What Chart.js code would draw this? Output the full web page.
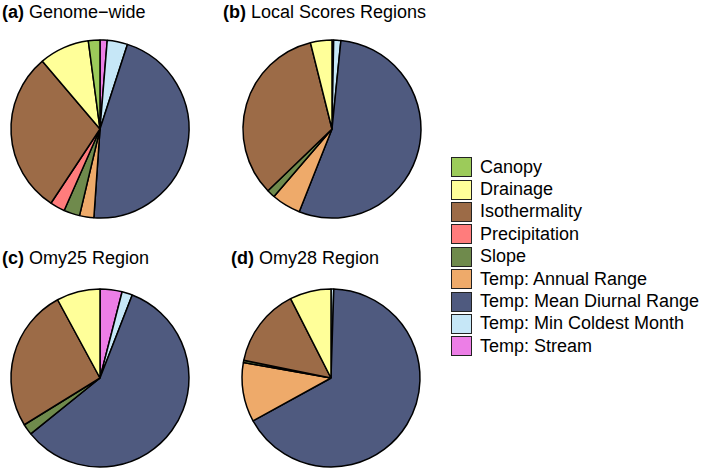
<!DOCTYPE html>
<html>
<head>
<meta charset="utf-8">
<script src="https://cdn.jsdelivr.net/npm/chart.js@4/dist/chart.umd.min.js"></script>
<style>
    body { margin: 0; background: #fff; width: 709px; height: 468px; overflow: hidden; position: relative; font-family: "Liberation Sans", Arial, sans-serif; }
    canvas { position: absolute; }
    .title { position: absolute; font-size: 18px; color: #000; white-space: nowrap; line-height: 18px; }
    .legend { position: absolute; left: 451px; top: 156px; }
    .legend .row { height: 22.4px; display: flex; align-items: center; font-size: 18px; white-space: nowrap; }
    .legend .box { width: 19px; height: 18px; border: 1.5px solid #222; margin-right: 8px; box-sizing: content-box; }
</style>
</head>
<body>
<div class="title" style="left:2px;top:3px"><b>(a)</b> Genome−wide</div>
<div class="title" style="left:223px;top:3px"><b>(b)</b> Local Scores Regions</div>
<div class="title" style="left:2px;top:249px"><b>(c)</b> Omy25 Region</div>
<div class="title" style="left:231px;top:249px"><b>(d)</b> Omy28 Region</div>
<canvas id="pie-a" width="200" height="200" style="left:0px;top:29px"></canvas>
<canvas id="pie-b" width="200" height="200" style="left:232px;top:29px"></canvas>
<canvas id="pie-c" width="200" height="200" style="left:0px;top:278px"></canvas>
<canvas id="pie-d" width="200" height="200" style="left:231px;top:278px"></canvas>
<div class="legend" id="legend"></div>
<script>
// variables, alphabetical as in the legend
const categories = ['Canopy', 'Drainage', 'Isothermality', 'Precipitation', 'Slope',
    'Temp: Annual Range', 'Temp: Mean Diurnal Range', 'Temp: Min Coldest Month', 'Temp: Stream'];
const colors = ['#9CCB5A', '#FFFF99', '#9C6B47', '#FF7C7C', '#6F8A4C',
    '#EEAA6A', '#4F5A7F', '#C6E7F7', '#EC7EE6'];

// percent of each panel
const genomeWide = [2.1, 9.1, 29.5, 2.7, 2.9, 2.6, 46.1, 3.7, 1.3];
const localScores = [0, 3.9, 33.3, 0, 1.5, 5.3, 54.4, 1.3, 0.3];
const omy25 = [0, 7.9, 25.9, 0, 2.0, 0, 58.3, 1.9, 4.0];
const omy28 = [0, 7.5, 14.3, 0, 0.4, 10.8, 66.5, 0.5, 0];

function renderPie(id, values) {
    // slices go counter-clockwise from 12 o'clock, so feed them reversed
    let data = values.slice().reverse();
    let bg = colors.slice().reverse();
    new Chart(document.getElementById(id), {
        type: 'pie',
        data: {
            labels: categories.slice().reverse(),
            datasets: [{
                data: data,
                backgroundColor: bg,
                borderColor: '#000',
                borderWidth: (ctx) => ctx.raw > 0 ? 1.5 : 0,
                radius: 89
            }]
        },
        options: {
            responsive: false,
            animation: false,
            layout: {padding: 0},
            plugins: {
                legend: {display: false},
                tooltip: {enabled: false}
            }
        }
    });
}

renderPie('pie-a', genomeWide);
renderPie('pie-b', localScores);
renderPie('pie-c', omy25);
renderPie('pie-d', omy28);

let legend = document.getElementById('legend');
legend.innerHTML = categories.map((name, i) => {
    return `<div class="row"><span class="box" style="background:${colors[i]}"></span>${name}</div>`;
}).join('');
</script>
</body>
</html>
